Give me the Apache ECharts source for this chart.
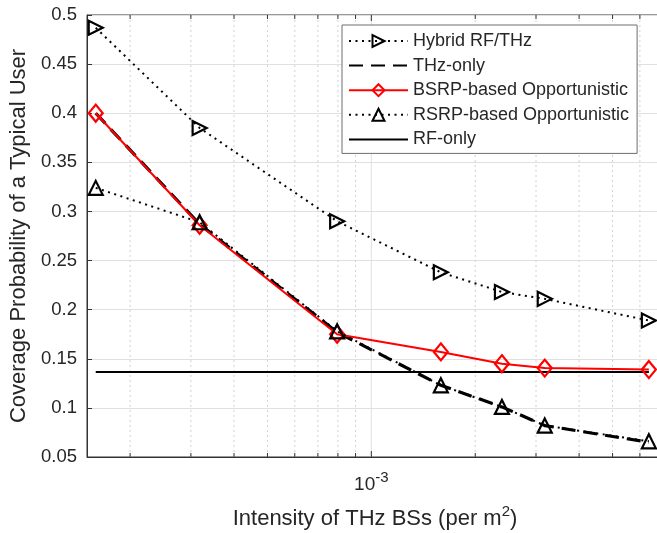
<!DOCTYPE html>
<html>
<head>
<meta charset="utf-8">
<title>Coverage probability vs THz BS intensity</title>
<script src="https://cdn.jsdelivr.net/npm/echarts@6/dist/echarts.min.js"></script>
<style>
  html, body { margin: 0; padding: 0; background: #fff; overflow: hidden; }
  #chart { width: 680px; height: 533px; }
</style>
</head>
<body>
<div id="chart"></div>
<script>
// THz BS intensity (per m^2), log-scaled x axis
const intensity = [1.59e-4, 3.18e-4, 7.96e-4, 1.59e-3, 2.39e-3, 3.18e-3, 6.37e-3];

// Coverage probability of a typical user for each scheme
const hybrid  = [0.487, 0.385, 0.290, 0.238, 0.218, 0.211, 0.189];
const thzOnly = [0.400, 0.287, 0.177, 0.123, 0.101, 0.082, 0.065];
const bsrp    = [0.400, 0.286, 0.175, 0.157, 0.145, 0.1405, 0.139];
const rsrp    = [0.324, 0.289, 0.178, 0.123, 0.101, 0.082, 0.066];
const rfOnly  = [0.1365, 0.1365, 0.1365, 0.1365, 0.1365, 0.1365, 0.1365];

const seriesNames = ['Hybrid RF/THz', 'THz-only', 'BSRP-based Opportunistic', 'RSRP-based Opportunistic', 'RF-only'];

// Log-axis grid positions (minor: 2..9 x 10^k, major: 10^k)
const xMinorTicks = [2e-4, 3e-4, 4e-4, 5e-4, 6e-4, 7e-4, 8e-4, 9e-4, 2e-3, 3e-3, 4e-3, 5e-3, 6e-3];
const xMajorTicks = [1e-3];

const yMin = 0.05, yMax = 0.5, yStep = 0.05;
const xMin = 1.5e-4, xMax = 7e-3;

const FONT = "'Liberation Sans', Arial, Helvetica, sans-serif";
const TEXT = '#262626';
const AXIS = '#333333';

const pairs = arr => intensity.map((x, i) => [x, arr[i]]);

function gridRenderer(major) {
  return function (params, api) {
    const v = api.value(0);
    const b = api.coord([v, yMin]);
    const t = api.coord([v, yMax]);
    const len = major ? 6 : 4;
    return {
      type: 'group',
      children: [
        { type: 'line', shape: { x1: b[0], y1: b[1], x2: t[0], y2: t[1] },
          style: major ? { stroke: '#e0e0e0', lineWidth: 1 }
                       : { stroke: '#d2d2d2', lineWidth: 1, lineDash: [2, 3] } },
        { type: 'line', shape: { x1: b[0], y1: b[1], x2: b[0], y2: b[1] - len },
          style: { stroke: AXIS, lineWidth: 1 } },
        { type: 'line', shape: { x1: t[0], y1: t[1], x2: t[0], y2: t[1] + len },
          style: { stroke: AXIS, lineWidth: 1 } }
      ]
    };
  };
}

const hollow = c => ({ color: 'rgba(255,255,255,0)', borderColor: c, borderWidth: 2.2 });
// legend entries for plain lines carry no marker
const noMarker = { color: 'rgba(0,0,0,0)', borderWidth: 0, opacity: 0 };

const chart = echarts.init(document.getElementById('chart'), null, { renderer: 'canvas' });

chart.setOption({
  animation: false,
  backgroundColor: '#ffffff',
  textStyle: { fontFamily: FONT },
  grid: {
    left: 87, right: 17, top: 15, bottom: 76,
    outerBoundsMode: 'none', containLabel: false,
    show: true, borderColor: AXIS, borderWidth: 1, backgroundColor: '#ffffff'
  },
  legend: {
    data: [
      { name: seriesNames[0] },
      { name: seriesNames[1], itemStyle: noMarker },
      { name: seriesNames[2] },
      { name: seriesNames[3] },
      { name: seriesNames[4], itemStyle: noMarker }
    ],
    orient: 'vertical',
    left: 342, top: 25,
    padding: [7, 8, 5, 6],
    itemWidth: 59, itemHeight: 15, itemGap: 6.6,
    backgroundColor: '#ffffff',
    borderColor: '#6e6e6e', borderWidth: 1,
    textStyle: { fontFamily: FONT, fontSize: 18, color: TEXT },
    selectedMode: false
  },
  xAxis: {
    type: 'log', logBase: 10, min: xMin, max: xMax,
    name: 'Intensity of THz BSs (per m{sup|2})',
    nameLocation: 'middle', nameGap: 47,
    nameTextStyle: {
      fontFamily: FONT, fontSize: 22, color: TEXT,
      rich: { sup: { fontSize: 15, fontFamily: FONT, color: TEXT, padding: [0, 0, 14, 0] } }
    },
    axisLine: { show: true, lineStyle: { color: AXIS, width: 1 } },
    axisTick: { show: false },
    splitLine: { show: false },
    minorTick: { show: false },
    axisLabel: {
      margin: 13,
      showMinLabel: false, showMaxLabel: false,
      formatter: function (v) {
        const e = Math.log10(v);
        if (Math.abs(e - Math.round(e)) > 1e-6) return '';
        return '{b|10}{s|' + Math.round(e) + '}';
      },
      rich: {
        b: { fontFamily: FONT, fontSize: 19, color: TEXT },
        s: { fontFamily: FONT, fontSize: 15, color: TEXT, padding: [0, 0, 14, 0] }
      }
    }
  },
  yAxis: {
    type: 'value', min: yMin, max: yMax, interval: yStep,
    name: 'Coverage Probability of a Typical User',
    nameLocation: 'middle', nameGap: 55,
    nameTextStyle: { fontFamily: FONT, fontSize: 22, color: TEXT },
    axisLine: { show: true, lineStyle: { color: AXIS, width: 1 } },
    axisTick: { show: true, inside: true, length: 5, lineStyle: { color: AXIS } },
    axisLabel: {
      fontFamily: FONT, fontSize: 18.5, color: TEXT, margin: 10,
      formatter: v => String(Math.round(v * 100) / 100)
    },
    splitLine: { show: true, lineStyle: { color: '#e0e0e0', width: 1 } }
  },
  series: [
    {
      type: 'custom', name: 'minor-grid', silent: true, z: 1,
      renderItem: gridRenderer(false),
      data: xMinorTicks.map(v => [v, yMin]),
      encode: { x: 0, y: 1 }, clip: false
    },
    {
      type: 'custom', name: 'major-grid', silent: true, z: 1,
      renderItem: gridRenderer(true),
      data: xMajorTicks.map(v => [v, yMin]),
      encode: { x: 0, y: 1 }, clip: false
    },
    {
      name: seriesNames[0], type: 'line', data: pairs(hybrid),
      symbol: 'triangle', symbolSize: 14, symbolRotate: -90,
      lineStyle: { color: '#000', width: 2, type: [2, 4.5] },
      itemStyle: hollow('#000'), z: 3
    },
    {
      name: seriesNames[1], type: 'line', data: pairs(thzOnly),
      symbol: 'none', showSymbol: false,
      lineStyle: { color: '#000', width: 3.2, type: [14, 8] },
      itemStyle: { color: '#000' }, z: 3
    },
    {
      name: seriesNames[2], type: 'line', data: pairs(bsrp),
      symbol: 'diamond', symbolSize: [14, 17],
      lineStyle: { color: '#ff0000', width: 2 },
      itemStyle: hollow('#ff0000'), z: 4
    },
    {
      name: seriesNames[3], type: 'line', data: pairs(rsrp),
      symbol: 'triangle', symbolSize: 14,
      lineStyle: { color: '#000', width: 2, type: [2, 4.5] },
      itemStyle: hollow('#000'), z: 5
    },
    {
      name: seriesNames[4], type: 'line', data: pairs(rfOnly),
      symbol: 'none', showSymbol: false,
      lineStyle: { color: '#000', width: 2 },
      itemStyle: { color: '#000' }, z: 3
    }
  ]
});
</script>
</body>
</html>
